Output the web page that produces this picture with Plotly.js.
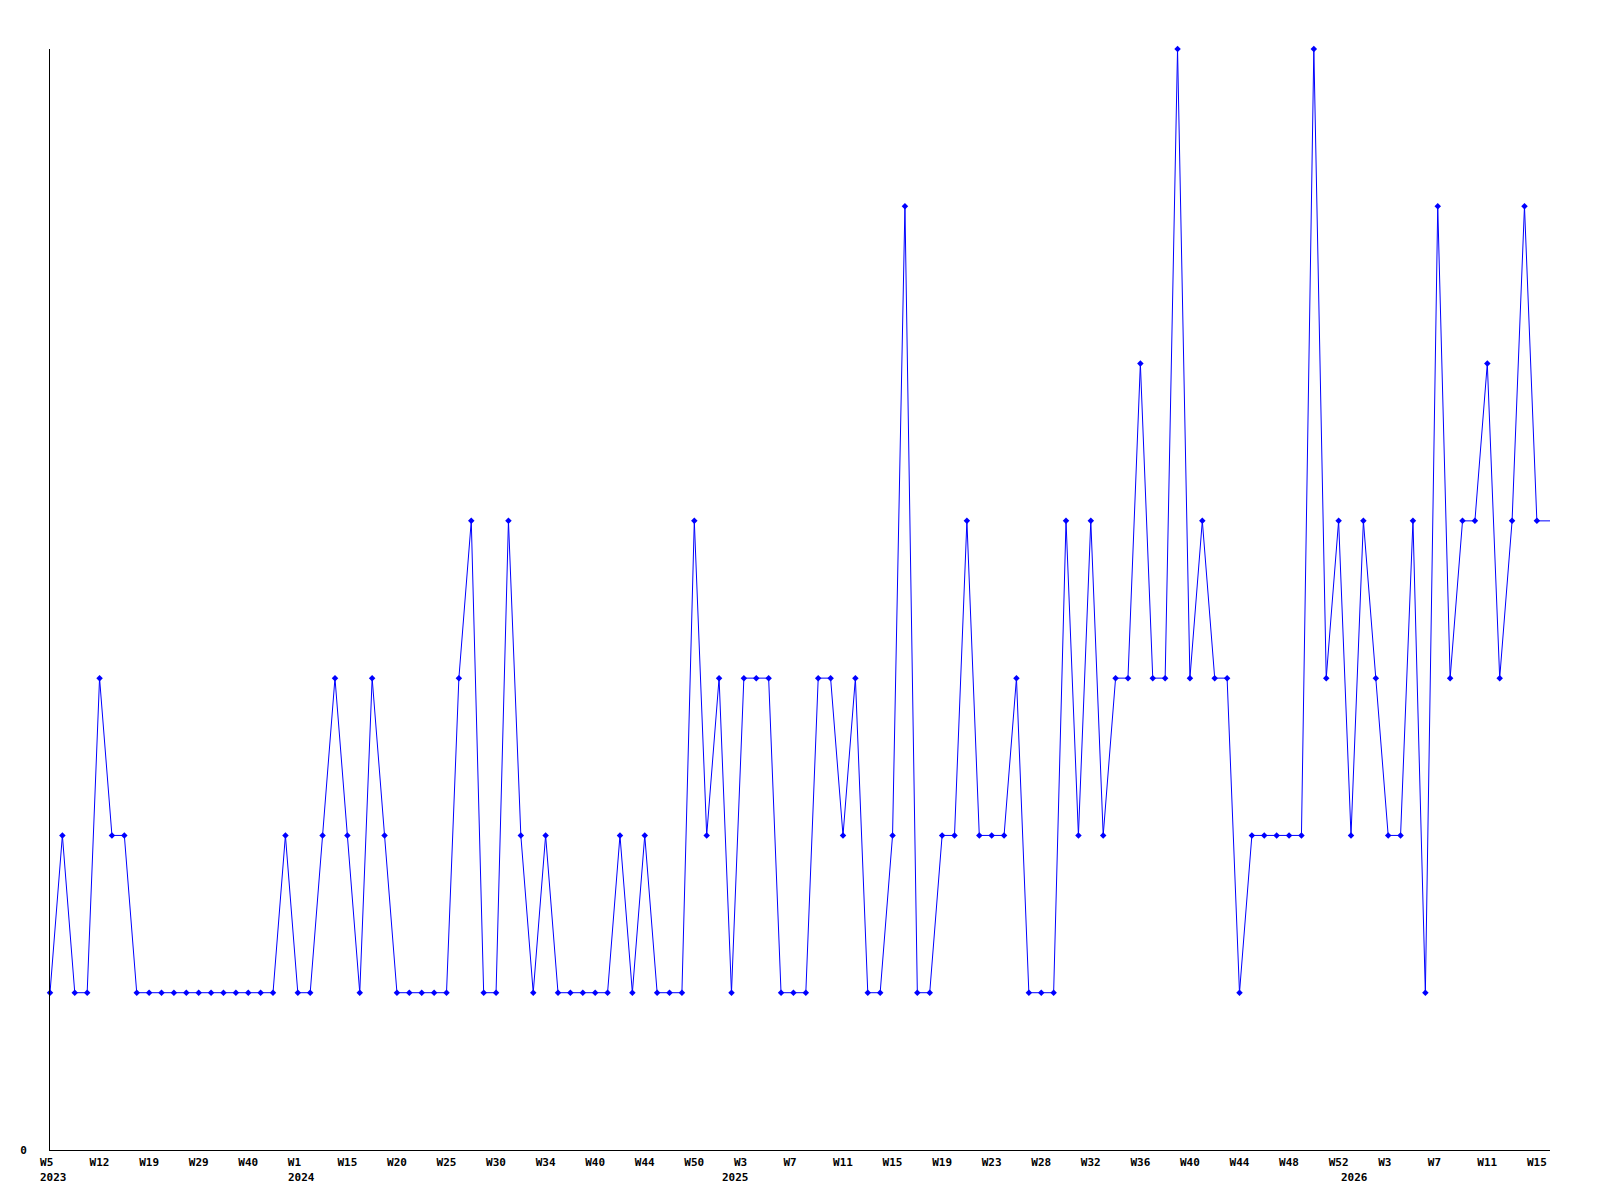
<!DOCTYPE html>
<html>
<head>
<meta charset="utf-8">
<script src="https://cdn.plot.ly/plotly-3.0.1.min.js"></script>
<style>
  html, body { margin: 0; padding: 0; background: #fff; }
  #chart { width: 1600px; height: 1200px; }
</style>
</head>
<body>
<div id="chart"></div>
<script>
// Weekly counts (one point per sample, in order)
const values = [
  1, 2, 1, 1, 3, 2, 2, 1, 1, 1,
  1, 1, 1, 1, 1, 1, 1, 1, 1, 2,
  1, 1, 2, 3, 2, 1, 3, 2, 1, 1,
  1, 1, 1, 3, 4, 1, 1, 4, 2, 1,
  2, 1, 1, 1, 1, 1, 2, 1, 2, 1,
  1, 1, 4, 2, 3, 1, 3, 3, 3, 1,
  1, 1, 3, 3, 2, 3, 1, 1, 2, 6,
  1, 1, 2, 2, 4, 2, 2, 2, 3, 1,
  1, 1, 4, 2, 4, 2, 3, 3, 5, 3,
  3, 7, 3, 4, 3, 3, 1, 2, 2, 2,
  2, 2, 7, 3, 4, 2, 4, 3, 2, 2,
  4, 1, 6, 3, 4, 4, 5, 3, 4, 6,
  4
];

// Week tick labels, one every 4 samples
const weekTickEvery = 4;
const weekLabels = [
  'W5', 'W12', 'W19', 'W29', 'W40', 'W1', 'W15', 'W20', 'W25', 'W30',
  'W34', 'W40', 'W44', 'W50', 'W3', 'W7', 'W11', 'W15', 'W19', 'W23',
  'W28', 'W32', 'W36', 'W40', 'W44', 'W48', 'W52', 'W3', 'W7', 'W11', 'W15'
];

// Year labels and the sample position where each year begins
const yearLabels = ['2023', '2024', '2025', '2026'];
const yearPositions = [0.3, 20.3, 55.3, 105.25];

const xIndex = values.map((_, i) => i);
const tickVals = weekLabels.map((_, i) => i * weekTickEvery);
// labels are laid out in 3-character cells (monospace), short ones padded on the right
const tickText = weekLabels.map(t => t.length < 3 ? t + '\u00a0'.repeat(3 - t.length) : t);
const xMax = 121.06;
const lastIdx = values.length - 1;

const font = { family: 'DejaVu Sans Mono, Liberation Mono, monospace', size: 11, color: '#000', weight: 'bold' };

const traces = [
  {
    x: xIndex,
    y: values,
    type: 'scatter',
    mode: 'lines+markers',
    line: { color: '#0000ff', width: 1 },
    marker: { color: '#0000ff', size: 5, symbol: 'diamond' },
    cliponaxis: false,
    hoverinfo: 'y'
  },
  {
    x: [lastIdx, xMax],
    y: [values[lastIdx], values[lastIdx]],
    type: 'scatter',
    mode: 'lines',
    line: { color: '#0000ff', width: 1 },
    hoverinfo: 'skip'
  }
];

const annotations = yearLabels.map((t, i) => ({
  text: t,
  x: yearPositions[i],
  xref: 'x',
  y: 0,
  yref: 'paper',
  yanchor: 'middle',
  xanchor: 'center',
  yshift: -27,
  showarrow: false,
  font: font
}));

const layout = {
  width: 1600,
  height: 1200,
  margin: { l: 50, r: 50, t: 49, b: 50 },
  paper_bgcolor: '#ffffff',
  plot_bgcolor: '#ffffff',
  showlegend: false,
  xaxis: {
    range: [0, xMax],
    tickmode: 'array',
    tickvals: tickVals,
    ticktext: tickText,
    tickangle: 0,
    showgrid: false,
    zeroline: false,
    showline: true,
    linecolor: '#000',
    linewidth: 1,
    ticks: '',
    ticklabelstandoff: 2,
    tickfont: font
  },
  yaxis: {
    range: [0, 7],
    tickmode: 'array',
    tickvals: [0],
    ticktext: ['0'],
    showgrid: false,
    zeroline: false,
    showline: true,
    linecolor: '#000',
    linewidth: 1,
    ticks: '',
    ticklabelstandoff: 20,
    tickfont: font
  },
  annotations: annotations
};

Plotly.newPlot('chart', traces, layout, { displayModeBar: false, staticPlot: true });
</script>
</body>
</html>
